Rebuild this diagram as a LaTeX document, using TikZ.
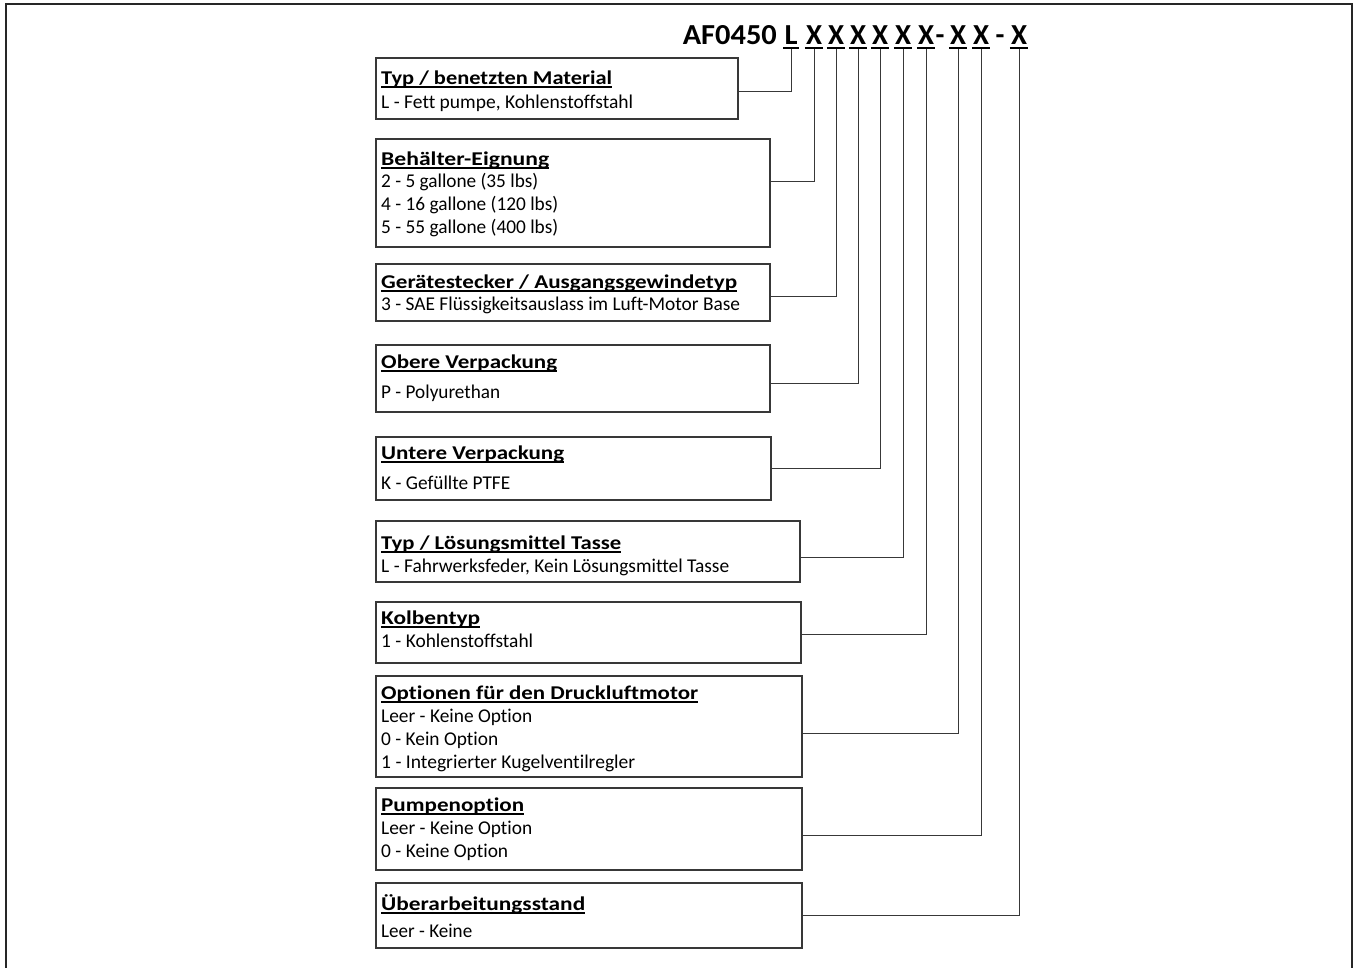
\documentclass[tikz,border=0pt]{standalone}
\usepackage{fontspec}
\setmainfont{Carlito}[Ligatures={NoCommon}]
\usepackage{graphicx}
\newsavebox\fwbox
\newcommand\fw[2]{\sbox\fwbox{#2}\pgfmathsetmacro\fwsc{#1/\the\wd\fwbox}\scalebox{\fwsc}[1]{\usebox\fwbox}}
\newcommand\ttl[2]{\fw{#1}{\bfseries #2}\llap{\rule[-4pt]{#1pt}{1.6pt}}}
\definecolor{frame}{gray}{0.15}
\definecolor{lin}{gray}{0.22}
\tikzset{
  box/.style={draw=lin, line width=1.1pt, anchor=north west, inner sep=0, outer sep=0},
  txt/.style={anchor=base west, inner sep=0, font=\fontsize{19.5}{22}\selectfont},
  hdr/.style={anchor=base, inner sep=0, font=\bfseries\fontsize{29}{32}\selectfont},
  hul/.style={line width=1.6pt, black},
  conn/.style={draw=lin, line width=1pt}
}
\begin{document}
\begin{tikzpicture}[x=1pt,y=-1pt]
\useasboundingbox (0,0) rectangle (1357,967);
\draw[frame, line width=2.6pt] (6,975) -- (6,4) -- (1352,4) -- (1352,975);

% header
\node[hdr, anchor=base east] (af) at (777,44) {\fw{94}{AF0450}};
\node[hdr] (h1) at (791,44) {\fw{13}{L}};
\node[hdr] (h2) at (814,44) {\fw{16}{X}};
\node[hdr] (h3) at (836,44) {\fw{16}{X}};
\node[hdr] (h4) at (858,44) {\fw{16}{X}};
\node[hdr] (h5) at (880,44) {\fw{16}{X}};
\node[hdr] (h6) at (903,44) {\fw{16}{X}};
\node[hdr] (h7) at (926,44) {\fw{16}{X}};
\node[hdr] (d1) at (940,44) {-};
\node[hdr] (h8) at (958,44) {\fw{16}{X}};
\node[hdr] (h9) at (981,44) {\fw{16}{X}};
\node[hdr] (d2) at (1000,44) {-};
\node[hdr] (h10) at (1019,44) {\fw{16}{X}};
\foreach \h in {h1,h2,h3,h4,h5,h6,h7,h8,h9,h10}{
  \draw[hul] ([yshift=-4pt,xshift=-1pt]\h.base west) -- ([yshift=-4pt,xshift=1pt]\h.base east);
}

% boxes
\node[box, minimum width=362, minimum height=61] (b1) at (376,58) {};
\node[box, minimum width=394, minimum height=108] (b2) at (376,139) {};
\node[box, minimum width=394, minimum height=57] (b3) at (376,264) {};
\node[box, minimum width=394, minimum height=67] (b4) at (376,345) {};
\node[box, minimum width=395, minimum height=63] (b5) at (376,437) {};
\node[box, minimum width=424, minimum height=61] (b6) at (376,521) {};
\node[box, minimum width=425, minimum height=61] (b7) at (376,602) {};
\node[box, minimum width=426, minimum height=101] (b8) at (376,676) {};
\node[box, minimum width=426, minimum height=82] (b9) at (376,788) {};
\node[box, minimum width=426, minimum height=65] (b10) at (376,883) {};

% texts
\node[txt] (t1a) at (381,84) {\ttl{231}{Typ / benetzten Material}};
\node[txt] (t1b) at (381,108) {\fw{252}{L - Fett pumpe, Kohlenstoffstahl}};

\node[txt] (t2a) at (381,165) {\ttl{168}{Behälter-Eignung}};
\node[txt] (t2b) at (381,187) {\fw{157}{2 - 5 gallone (35 lbs)}};
\node[txt] (t2c) at (381,210) {\fw{177}{4 - 16 gallone (120 lbs)}};
\node[txt] (t2d) at (381,233) {\fw{177}{5 - 55 gallone (400 lbs)}};

\node[txt] (t3a) at (381,288) {\ttl{356}{Gerätestecker / Ausgangsgewindetyp}};
\node[txt] (t3b) at (381,310) {\fw{359}{3 - SAE Flüssigkeitsauslass im Luft-Motor Base}};

\node[txt] (t4a) at (381,368) {\ttl{176}{Obere Verpackung}};
\node[txt] (t4b) at (381,398) {\fw{119}{P - Polyurethan}};

\node[txt] (t5a) at (381,459) {\ttl{183}{Untere Verpackung}};
\node[txt] (t5b) at (381,489) {\fw{129}{K - Gefüllte PTFE}};

\node[txt] (t6a) at (381,549) {\ttl{240}{Typ / Lösungsmittel Tasse}};
\node[txt] (t6b) at (381,572) {\fw{348}{L - Fahrwerksfeder, Kein Lösungsmittel Tasse}};

\node[txt] (t7a) at (381,624) {\ttl{99}{Kolbentyp}};
\node[txt] (t7b) at (381,647) {\fw{152}{1 - Kohlenstoffstahl}};

\node[txt] (t8a) at (381,699) {\ttl{317}{Optionen für den Druckluftmotor}};
\node[txt] (t8b) at (381,722) {\fw{151}{Leer - Keine Option}};
\node[txt] (t8c) at (381,745) {\fw{117}{0 - Kein Option}};
\node[txt] (t8d) at (381,768) {\fw{254}{1 - Integrierter Kugelventilregler}};

\node[txt] (t9a) at (381,811) {\ttl{143}{Pumpenoption}};
\node[txt] (t9b) at (381,834) {\fw{151}{Leer - Keine Option}};
\node[txt] (t9c) at (381,857) {\fw{127}{0 - Keine Option}};

\node[txt] (t10a) at (381,910) {\ttl{204}{Überarbeitungsstand}};
\node[txt] (t10b) at (381,937) {\fw{91}{Leer - Keine}};

% connectors
\draw[conn] ([yshift=-5pt]h1.base) |- ([yshift=-2.5pt]b1.east);
\draw[conn] ([yshift=-5pt]h2.base) |- ([yshift=12pt]b2.east);
\draw[conn] ([yshift=-5pt]h3.base) |- ([yshift=-3.5pt]b3.east);
\draw[conn] ([yshift=-5pt]h4.base) |- ([yshift=-4.5pt]b4.east);
\draw[conn] ([yshift=-5pt]h5.base) |- ([yshift=0pt]b5.east);
\draw[conn] ([yshift=-5pt]h6.base) |- ([yshift=-5.5pt]b6.east);
\draw[conn] ([yshift=-5pt]h7.base) |- ([yshift=-1.5pt]b7.east);
\draw[conn] ([yshift=-5pt]h8.base) |- ([yshift=-6.5pt]b8.east);
\draw[conn] ([yshift=-5pt]h9.base) |- ([yshift=-6pt]b9.east);
\draw[conn] ([yshift=-5pt]h10.base) |- ([yshift=0pt]b10.east);
\end{tikzpicture}
\end{document}
